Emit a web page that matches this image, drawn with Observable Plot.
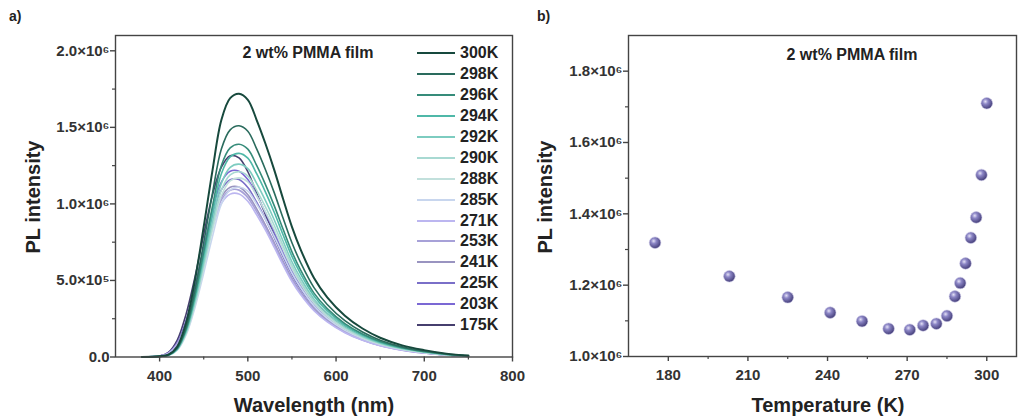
<!DOCTYPE html>
<html>
<head>
<meta charset="utf-8">
<script src="https://cdn.jsdelivr.net/npm/d3@7"></script>
<script src="https://cdn.jsdelivr.net/npm/@observablehq/plot@0.6"></script>
<style>
  html, body { margin: 0; padding: 0; background: #fff; }
  #wrap { position: relative; width: 1018px; height: 416px; overflow: hidden; background: #fff; font-family: "Liberation Sans", Arial, sans-serif; font-weight: bold; color: #222; }
  .abs { position: absolute; white-space: nowrap; }
  .c { transform: translate(-50%, -50%); }
  .title { font-size: 20px; color: #222; }
  .ann { font-size: 16px; color: #222; }
  .panel { position: absolute; top: 0; }
  .panel svg { overflow: visible; }
  .leg { position: absolute; left: 417px; top: 43px; }
  .row { height: 20.9px; display: flex; align-items: center; }
  .row span.ln { display: inline-block; width: 38px; height: 0; border-top: 2px solid; margin-right: 5px; }
  .row span.tx { font-size: 16px; color: #222; }
</style>
</head>
<body>
<div id="wrap">
  <div id="pb" class="panel" style="left:520px"></div>
  <div id="pa" class="panel" style="left:0"></div>
  <div class="abs" style="left:9px;top:8px;font-size:14px;">a)</div>
  <div class="abs" style="left:537px;top:8px;font-size:14px;">b)</div>
  <div class="abs c title" style="left:314px;top:405px;">Wavelength (nm)</div>
  <div class="abs c title" style="left:33px;top:197px;transform:translate(-50%,-50%) rotate(-90deg);">PL intensity</div>
  <div class="abs c title" style="left:828px;top:405px;">Temperature (K)</div>
  <div class="abs c title" style="left:545px;top:197px;transform:translate(-50%,-50%) rotate(-90deg);">PL intensity</div>
  <div class="abs c ann" style="left:308px;top:53px;">2 wt% PMMA film</div>
  <div class="abs c ann" style="left:852px;top:55px;">2 wt% PMMA film</div>
  <div id="legend" class="leg"></div>
</div>
<script>
// ---------- Panel a: spectra (intensity in units of 1e6) ----------
const wavelength = [380,400,410,420,430,440,450,460,470,480,490,500,510,520,530,540,550,560,575,590,610,630,650,675,700,725,750];
const s300 = [0,0.005,0.015,0.069,0.224,0.499,0.851,1.221,1.548,1.691,1.72,1.68,1.548,1.393,1.221,1.032,0.850,0.700,0.516,0.390,0.270,0.186,0.126,0.076,0.045,0.022,0.009];
const s298 = [0,0.005,0.014,0.060,0.196,0.438,0.747,1.072,1.359,1.484,1.51,1.475,1.359,1.223,1.072,0.906,0.746,0.615,0.453,0.343,0.237,0.163,0.110,0.066,0.039,0.020,0.008];
const s296 = [0,0.004,0.013,0.056,0.181,0.403,0.688,0.987,1.251,1.366,1.39,1.358,1.251,1.126,0.987,0.834,0.687,0.566,0.417,0.316,0.218,0.150,0.101,0.061,0.036,0.018,0.007];
const s294 = [0,0.004,0.012,0.053,0.173,0.386,0.658,0.944,1.197,1.307,1.33,1.299,1.197,1.077,0.944,0.798,0.657,0.541,0.399,0.302,0.209,0.144,0.097,0.059,0.035,0.017,0.007];
const s292 = [0,0.004,0.011,0.050,0.164,0.365,0.624,0.895,1.134,1.239,1.26,1.231,1.134,1.021,0.895,0.756,0.622,0.513,0.378,0.286,0.198,0.136,0.092,0.055,0.033,0.016,0.006];
const s290 = [0,0.004,0.011,0.048,0.157,0.351,0.599,0.859,1.089,1.189,1.21,1.182,1.089,0.980,0.859,0.726,0.598,0.492,0.363,0.275,0.190,0.131,0.088,0.053,0.031,0.016,0.006];
const s288 = [0,0.004,0.011,0.047,0.152,0.339,0.579,0.831,1.053,1.150,1.17,1.143,1.053,0.948,0.831,0.702,0.578,0.476,0.351,0.266,0.184,0.126,0.085,0.051,0.030,0.015,0.006];
const s285 = [0,0.003,0.010,0.044,0.144,0.322,0.549,0.788,0.999,1.091,1.11,1.084,0.999,0.899,0.788,0.666,0.548,0.452,0.333,0.252,0.174,0.120,0.081,0.049,0.029,0.014,0.006];
const s271 = [0.001,0.005,0.023,0.082,0.209,0.400,0.625,0.845,1.003,1.064,1.065,1.017,0.929,0.828,0.716,0.600,0.493,0.406,0.302,0.229,0.158,0.109,0.073,0.044,0.026,0.013,0.004];
const s253 = [0.001,0.006,0.023,0.084,0.213,0.409,0.639,0.865,1.026,1.089,1.090,1.041,0.950,0.847,0.733,0.614,0.505,0.416,0.309,0.234,0.162,0.111,0.075,0.045,0.026,0.013,0.004];
const s241 = [0.001,0.006,0.024,0.085,0.217,0.417,0.651,0.880,1.045,1.109,1.110,1.060,0.968,0.862,0.746,0.625,0.514,0.423,0.315,0.239,0.165,0.113,0.076,0.046,0.027,0.013,0.004];
const s225 = [0.001,0.006,0.025,0.089,0.227,0.435,0.680,0.920,1.092,1.158,1.159,1.107,1.011,0.901,0.779,0.653,0.537,0.442,0.329,0.249,0.172,0.118,0.080,0.048,0.028,0.014,0.005];
const s203 = [0.001,0.006,0.026,0.093,0.238,0.456,0.712,0.963,1.143,1.213,1.214,1.159,1.058,0.943,0.816,0.684,0.562,0.463,0.344,0.261,0.180,0.124,0.083,0.050,0.029,0.015,0.005];
const s175 = [0.001,0.007,0.030,0.110,0.280,0.520,0.800,1.060,1.240,1.315,1.300,1.210,1.070,0.930,0.800,0.675,0.570,0.475,0.360,0.280,0.200,0.137,0.092,0.055,0.032,0.016,0.005];

const seriesNames = ["300K","298K","296K","294K","292K","290K","288K","285K","271K","253K","241K","225K","203K","175K"];
const seriesValues = [s300,s298,s296,s294,s292,s290,s288,s285,s271,s253,s241,s225,s203,s175];
const seriesColors = ["#17493d","#2a6b5d","#368c7a","#4fb8a8","#7dccc0","#a8d9d2","#c2e0dc","#c8d6ee","#bcb6f0","#a7a1d8","#9994c0","#7a6fc8","#7b68d4","#463f6e"];

const xTicksA = [400,500,600,700,800];
const xMinorA = [450,550,650,750];
const yTicksA = [0,5e5,1e6,1.5e6,2e6];
const yTickLabelsA = ["0.0","5.0×10⁵","1.0×10⁶","1.5×10⁶","2.0×10⁶"];
const yMinorA = [2.5e5,7.5e5,1.25e6,1.75e6];

// ---------- Panel b: integrated PL vs temperature ----------
const tempK = [175,203,225,241,253,263,271,276,281,285,288,290,292,294,296,298,300];
const plInt = [1.319,1.225,1.166,1.123,1.099,1.078,1.075,1.087,1.092,1.114,1.1685,1.206,1.261,1.333,1.390,1.509,1.710];
const xTicksB = [180,210,240,270,300];
const xMinorB = [195,225,255,285];
const yTicksB = [1.0e6,1.2e6,1.4e6,1.6e6,1.8e6];
const yTickLabelsB = ["1.0×10⁶","1.2×10⁶","1.4×10⁶","1.6×10⁶","1.8×10⁶"];
const yMinorB = [1.1e6,1.3e6,1.5e6,1.7e6];

const axisStroke = "#444";
const baseStyle = {fontFamily: "'Liberation Sans', Arial, sans-serif", fontSize: "15px", fontWeight: "bold", color: "#333", background: "transparent", overflow: "visible"};

// table for lines, drawn in reverse legend order (300K on top)
const rows = [];
for (let k = seriesNames.length - 1; k >= 0; k--) {
  seriesValues[k].forEach((v, j) => rows.push({wl: wavelength[j], I: v * 1e6, T: seriesNames[k]}));
}
const widthOf = name => name === "300K" ? 2 : 1.6;

const plotA = Plot.plot({
  width: 520, height: 416,
  marginLeft: 115, marginRight: 8, marginTop: 35, marginBottom: 59.5,
  style: baseStyle,
  x: {domain: [350, 800]},
  y: {domain: [0, 2.1e6]},
  color: {domain: seriesNames, range: seriesColors},
  marks: [
    Plot.line(rows, {x: "wl", y: "I", z: "T", stroke: "T", strokeWidth: d => widthOf(d.T), curve: "catmull-rom"}),
    Plot.frame({stroke: axisStroke, strokeWidth: 1.4}),
    Plot.axisX(xTicksA, {tickSize: 5, tickPadding: 8, stroke: axisStroke, strokeWidth: 1.4, label: null, tickFormat: d => String(d)}),
    Plot.axisX(xMinorA, {tickSize: 3, stroke: axisStroke, strokeWidth: 1.2, label: null, tickFormat: () => ""}),
    Plot.axisY(yTicksA, {tickSize: 5, tickPadding: 1, stroke: axisStroke, strokeWidth: 1.4, label: null, tickFormat: d => yTickLabelsA[yTicksA.indexOf(d)]}),
    Plot.axisY(yMinorA, {tickSize: 3, stroke: axisStroke, strokeWidth: 1.2, label: null, tickFormat: () => ""})
  ]
});
document.getElementById("pa").appendChild(plotA);

// legend (HTML)
const leg = document.getElementById("legend");
seriesNames.forEach((n, i) => {
  const r = document.createElement("div");
  r.className = "row";
  r.innerHTML = `<span class="ln" style="border-color:${seriesColors[i]}"></span><span class="tx">${n}</span>`;
  leg.appendChild(r);
});

// sphere gradient defs
const defsMark = () => {
  const ns = "http://www.w3.org/2000/svg";
  const defs = document.createElementNS(ns, "defs");
  const g = document.createElementNS(ns, "radialGradient");
  g.setAttribute("id", "sph");
  g.setAttribute("cx", "0.38"); g.setAttribute("cy", "0.35"); g.setAttribute("r", "0.65");
  [["0", "#e4e1f6"], ["0.35", "#8c86c6"], ["1", "#453f7a"]].forEach(([o, c]) => {
    const s = document.createElementNS(ns, "stop");
    s.setAttribute("offset", o); s.setAttribute("stop-color", c);
    g.appendChild(s);
  });
  defs.appendChild(g);
  return defs;
};

const pts = tempK.map((t, i) => ({T: t, I: plInt[i] * 1e6}));
const plotB = Plot.plot({
  width: 498, height: 416,
  marginLeft: 108, marginRight: 2, marginTop: 35, marginBottom: 60,
  style: baseStyle,
  x: {domain: [165, 311.2]},
  y: {domain: [1.0e6, 1.9e6]},
  marks: [
    defsMark,
    Plot.dot(pts, {x: "T", y: "I", r: 5.8, fill: "url(#sph)", stroke: "#c9c6e6", strokeWidth: 0.6}),
    Plot.frame({stroke: axisStroke, strokeWidth: 1.4}),
    Plot.axisX(xTicksB, {tickSize: 5, tickPadding: 8, stroke: axisStroke, strokeWidth: 1.4, label: null, tickFormat: d => String(d)}),
    Plot.axisX(xMinorB, {tickSize: 3, stroke: axisStroke, strokeWidth: 1.2, label: null, tickFormat: () => ""}),
    Plot.axisY(yTicksB, {tickSize: 5, tickPadding: 1, stroke: axisStroke, strokeWidth: 1.4, label: null, tickFormat: d => yTickLabelsB[yTicksB.indexOf(d)]}),
    Plot.axisY(yMinorB, {tickSize: 3, stroke: axisStroke, strokeWidth: 1.2, label: null, tickFormat: () => ""})
  ]
});
document.getElementById("pb").appendChild(plotB);
</script>
</body>
</html>
